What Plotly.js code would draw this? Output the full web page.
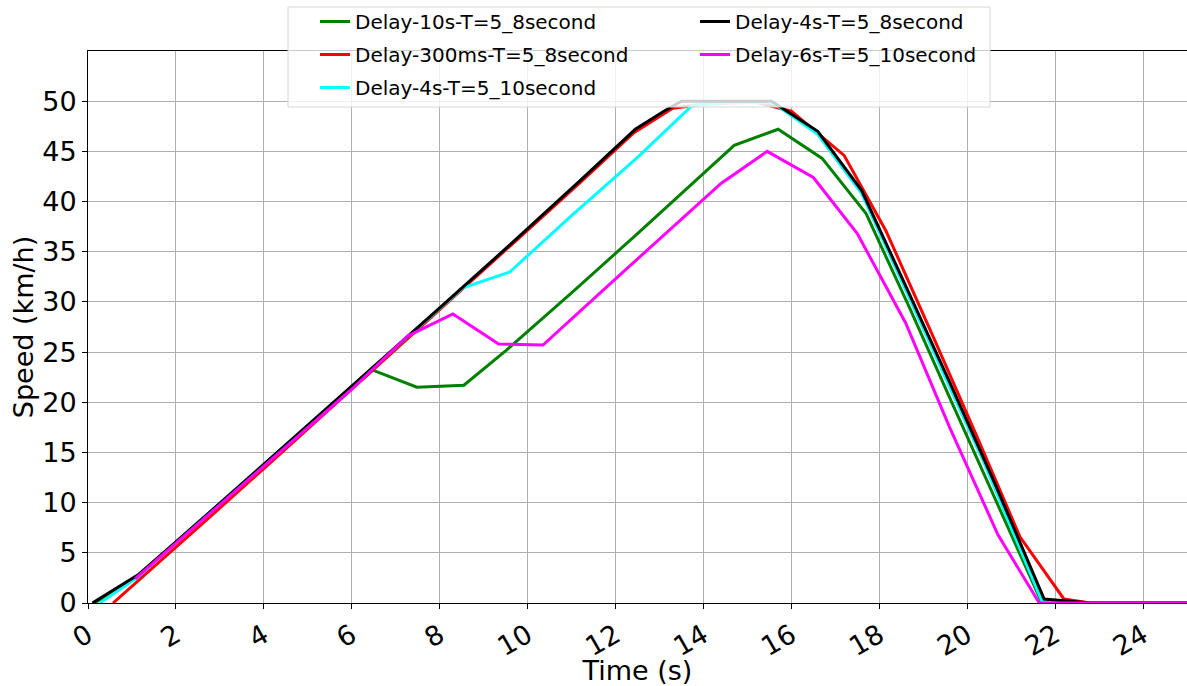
<!DOCTYPE html>
<html>
<head>
<meta charset="utf-8">
<script src="https://cdn.plot.ly/plotly-3.0.1.min.js"></script>
<style>html,body{margin:0;padding:0;background:#fff;}#chart{width:1187px;height:686px;}</style>
</head>
<body>
<div id="chart"></div>
<script>
// Series names
const names = ["Delay-10s-T=5_8second", "Delay-300ms-T=5_8second", "Delay-4s-T=5_10second", "Delay-4s-T=5_8second", "Delay-6s-T=5_10second"];

// Delay-10s-T=5_8second (green)
const green_t = [0.15, 1.14, 2.5, 4, 5.5, 6.48, 7.48, 8.55, 9.52, 11, 12.5, 14.7, 15.7, 16.7, 17.7, 18.7, 19.7, 20.8, 21.7, 22.6, 25];
const green_v = [0, 2.6, 8.0, 13.7, 19.5, 23.2, 21.5, 21.7, 25.2, 30.9, 36.8, 45.6, 47.2, 44.3, 38.8, 29.3, 19.5, 8.8, 0, 0, 0];

// Delay-300ms-T=5_8second (red)
const red_t = [0.57, 1.14, 2.5, 4, 6, 8, 9.5, 11.2, 12.4, 13.3, 14.2, 15.2, 16.0, 17.2, 18.15, 19.2, 20.2, 21.2, 22.2, 22.8, 25];
const red_v = [0, 2.2, 7.5, 13.4, 21.3, 29.2, 35.1, 41.9, 46.8, 49.3, 49.8, 49.9, 49.0, 44.6, 37.1, 26.8, 16.8, 6.6, 0.4, 0, 0];

// Delay-4s-T=5_10second (cyan)
const cyan_t = [0.27, 1.14, 2.5, 4, 6, 7.5, 8.53, 9.6, 11, 12.5, 13.75, 14.7, 15.6, 16.6, 17.6, 18.6, 20.4, 21.7, 22.6, 25];
const cyan_v = [0, 2.6, 8.0, 13.8, 21.6, 27.4, 31.4, 33.0, 38.6, 44.4, 49.6, 49.9, 49.8, 46.7, 40.8, 31.2, 13.8, 0.2, 0, 0];

// Delay-4s-T=5_8second (black)
const black_t = [0.1, 1.14, 2.5, 4, 6, 8, 9.5, 11.2, 12.45, 13.1, 13.5, 14.5, 15.55, 16.6, 17.6, 18.6, 19.6, 20.6, 21.75, 22.8, 25];
const black_v = [0, 2.8, 8.0, 13.8, 21.6, 29.4, 35.3, 42.1, 47.2, 49.0, 50, 50, 50, 47.0, 41.1, 31.6, 22.0, 12.2, 0.4, 0, 0];

// Delay-6s-T=5_10second (magenta)
const mag_t = [1.07, 2.5, 4, 6, 7.27, 8.3, 9.34, 10.35, 12, 14.4, 15.45, 16.5, 17.5, 18.6, 19.6, 20.7, 21.64, 25];
const mag_v = [2.4, 7.9, 13.6, 21.3, 26.6, 28.8, 25.8, 25.7, 32.3, 41.8, 45.0, 42.4, 36.8, 27.9, 17.5, 6.8, 0, 0];

const xTicks = [0, 2, 4, 6, 8, 10, 12, 14, 16, 18, 20, 22, 24];
const yTicks = [0, 5, 10, 15, 20, 25, 30, 35, 40, 45, 50];

const colors = ["green", "red", "cyan", "black", "magenta"];
const xs = [green_t, red_t, cyan_t, black_t, mag_t];
const ys = [green_v, red_v, cyan_v, black_v, mag_v];
const legendOf = ["legend", "legend", "legend", "legend2", "legend2"];

const traces = names.map((n, i) => ({
  type: "scatter", mode: "lines", name: n,
  x: xs[i], y: ys[i],
  line: {color: colors[i], width: 3},
  legend: legendOf[i], legendgroup: "g" + i
}));

const FONT = "DejaVu Sans, Liberation Sans, sans-serif";
const plotL = 88, plotW = 1099, plotT = 51, plotH = 552;
const px2x = p => (p - plotL) / plotW;
const py2y = p => (plotT + plotH - p) / plotH;

const layout = {
  width: 1187, height: 686,
  margin: {l: plotL, r: 0, t: plotT, b: 686 - plotT - plotH},
  paper_bgcolor: "#fff", plot_bgcolor: "#fff",
  font: {family: FONT, color: "#000"},
  showlegend: true,
  xaxis: {
    range: [0, 25], tickvals: xTicks, ticktext: xTicks.map(String),
    tickangle: -30, tickfont: {size: 27, family: FONT},
    ticks: "outside", ticklen: 5, tickcolor: "#000",
    showgrid: true, gridcolor: "#b0b0b0", gridwidth: 1,
    showline: true, linecolor: "#000", linewidth: 1, mirror: true,
    zeroline: false,
    title: {text: "Time (s)", font: {size: 27, family: FONT}, standoff: 0}
  },
  yaxis: {
    range: [0, 55], tickvals: yTicks, ticktext: yTicks.map(String),
    tickfont: {size: 27, family: FONT},
    ticks: "outside", ticklen: 5, tickcolor: "#000",
    showgrid: true, gridcolor: "#b0b0b0", gridwidth: 1,
    showline: true, linecolor: "#000", linewidth: 1, mirror: true,
    zeroline: false,
    title: {text: "Speed (km/h)", font: {size: 27, family: FONT}, standoff: 0}
  },
  legend: {
    x: px2x(315), y: py2y(2), xanchor: "left", yanchor: "top",
    bgcolor: "rgba(0,0,0,0)", borderwidth: 0,
    font: {size: 20, family: FONT}, tracegroupgap: 4, traceorder: "grouped"
  },
  legend2: {
    x: px2x(695), y: py2y(2), xanchor: "left", yanchor: "top",
    bgcolor: "rgba(0,0,0,0)", borderwidth: 0,
    font: {size: 20, family: FONT}, tracegroupgap: 4, traceorder: "grouped"
  },
  shapes: [{
    type: "rect", xref: "paper", yref: "paper", layer: "above",
    x0: px2x(288), x1: px2x(990), y0: py2y(107), y1: py2y(7),
    fillcolor: "rgba(255,255,255,0.8)", line: {color: "#d6d6d6", width: 1}
  }]
};

Plotly.newPlot("chart", traces, layout, {displayModeBar: false, staticPlot: true});
</script>
</body>
</html>
